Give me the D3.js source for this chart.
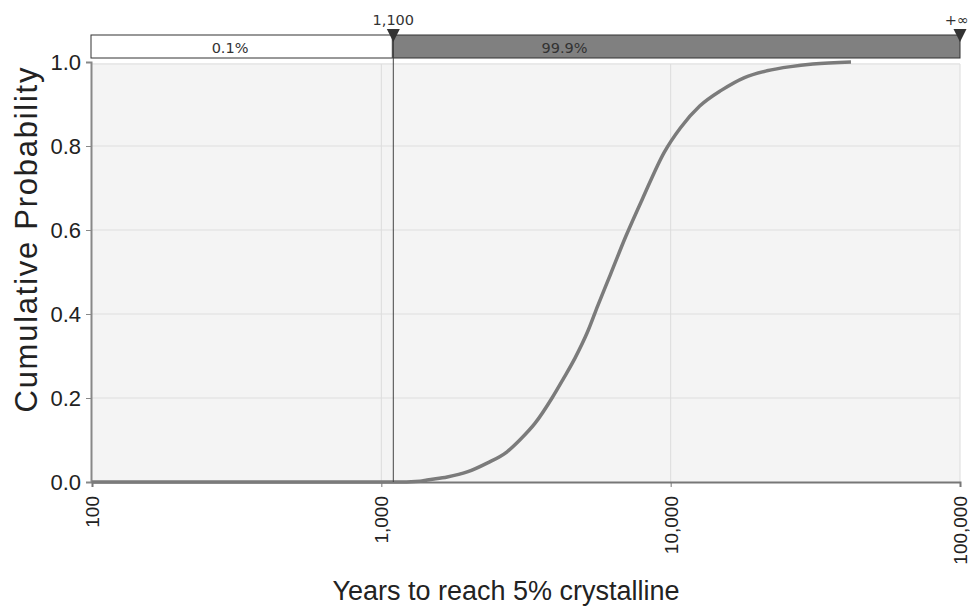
<!DOCTYPE html>
<html>
<head>
<meta charset="utf-8">
<script src="https://cdn.jsdelivr.net/npm/d3@7"></script>
<style>
  body { margin: 0; background: #fff; }
  svg { display: block; }
  .tick text { font-family: "Liberation Sans", Arial, sans-serif; fill: #222; }
  .band-label { font-family: "DejaVu Sans", Tahoma, sans-serif; font-size: 14.5px; fill: #333; }
</style>
</head>
<body>
<div id="chart"></div>
<script>
// values
const years = [100, 1100, 1360, 1440, 1690, 1980, 2320, 2720, 3010, 3400, 3890, 4250, 4670, 5180,
  5600, 6200, 7000, 8000, 9500, 10800, 12600, 15000, 18000, 21500, 26000, 31000, 42000];
const cumProb = [0, 0, 0.002, 0.005, 0.012, 0.024, 0.045, 0.072, 0.1, 0.14, 0.2, 0.245, 0.295, 0.36,
  0.42, 0.495, 0.585, 0.675, 0.785, 0.843, 0.895, 0.933, 0.963, 0.979, 0.989, 0.995, 1.0];

const xTicks = [100, 1000, 10000, 100000];
const yTicks = [0, 0.2, 0.4, 0.6, 0.8, 1.0];

const bandEdges = [100, 1100, 100000];
const bandLabels = ["0.1%", "99.9%"];
const bandLabelAt = [300, 4300];
const markerLabels = ["1,100", "+\u221e"];

const width = 970, height = 609;
const margin = {top: 62, right: 10, bottom: 127, left: 92};

const svg = d3.select("#chart").append("svg")
  .attr("width", width)
  .attr("height", height);

const x = d3.scaleLog()
  .domain([100, 100000])
  .range([margin.left, width - margin.right]);

const y = d3.scaleLinear()
  .domain([0, 1])
  .range([height - margin.bottom, margin.top]);

// plot background
svg.append("rect")
  .attr("x", x(100) - 1)
  .attr("y", y(1) + 1)
  .attr("width", x(100000) - x(100) + 1)
  .attr("height", y(0) - y(1) - 1)
  .style("fill", "#f4f4f4");

// gridlines
svg.append("g").selectAll("line")
  .data(yTicks.slice(1))
  .enter().append("line")
  .attr("x1", x(100)).attr("x2", x(100000))
  .attr("y1", d => y(d) + (d === 1 ? 2 : 0)).attr("y2", d => y(d) + (d === 1 ? 2 : 0))
  .style("stroke", "#dedede");

svg.append("g").selectAll("line")
  .data(xTicks.slice(1))
  .enter().append("line")
  .attr("x1", d => x(d)).attr("x2", d => x(d))
  .attr("y1", y(1) + 2).attr("y2", y(0))
  .style("stroke", "#dcdcdc");

// axes
const yAxis = d3.axisLeft(y).tickValues(yTicks).tickFormat(d3.format(".1f")).tickSize(5).tickPadding(5);
const gy = svg.append("g")
  .attr("transform", "translate(" + (x(100) - 1) + ",0)")
  .call(yAxis);
gy.select(".domain").style("stroke", "#888").style("stroke-width", 2);
gy.selectAll(".tick line").style("stroke", "#888");
gy.selectAll(".tick text").style("font-size", "22px");

const xAxis = d3.axisBottom(x).tickValues(xTicks).tickFormat(d3.format(",")).tickSize(5);
const gx = svg.append("g")
  .attr("transform", "translate(0," + y(0) + ")")
  .call(xAxis);
gx.select(".domain").style("stroke", "#777").style("stroke-width", 2);
gx.selectAll(".tick line").style("stroke", "#777");
gx.selectAll(".tick text")
  .style("font-size", "19px")
  .attr("transform", "rotate(-90)")
  .attr("text-anchor", "end")
  .attr("x", -14)
  .attr("y", 0)
  .attr("dy", "0.35em");

// axis titles
svg.append("text")
  .attr("transform", "translate(37,240) rotate(-90)")
  .attr("text-anchor", "middle")
  .attr("textLength", 345)
  .style("font-family", "Liberation Sans, Arial, sans-serif")
  .style("font-size", "31px")
  .style("fill", "#222")
  .text("Cumulative Probability");

svg.append("text")
  .attr("x", 506)
  .attr("y", 600)
  .attr("text-anchor", "middle")
  .style("font-family", "Liberation Sans, Arial, sans-serif")
  .style("font-size", "27px")
  .style("fill", "#222")
  .text("Years to reach 5% crystalline");

// the cumulative curve
const line = d3.line()
  .x((d, i) => x(years[i]))
  .y(d => y(d))
  .curve(d3.curveMonotoneX);

svg.append("path")
  .datum(cumProb)
  .attr("d", line)
  .style("fill", "none")
  .style("stroke", "#7b7b7b")
  .style("stroke-width", 3.5);

// top band
const bandTop = 35, bandH = 23;
svg.selectAll("rect.band")
  .data(bandLabels)
  .enter().append("rect")
  .attr("x", (d, i) => x(bandEdges[i]) - (i === 0 ? 1 : 0))
  .attr("y", bandTop)
  .attr("width", (d, i) => x(bandEdges[i + 1]) - x(bandEdges[i]))
  .attr("height", bandH)
  .style("fill", (d, i) => i === 0 ? "#fff" : "#808080")
  .style("stroke", "#333")
  .style("stroke-width", 1);

svg.selectAll("text.band-text")
  .data(bandLabels)
  .enter().append("text")
  .attr("class", "band-label")
  .attr("x", (d, i) => x(bandLabelAt[i]))
  .attr("y", 53)
  .attr("text-anchor", "middle")
  .text(d => d);

// delimiter line at 1,100
svg.append("line")
  .attr("x1", x(1100)).attr("x2", x(1100))
  .attr("y1", bandTop).attr("y2", y(0))
  .style("stroke", "#444")
  .style("stroke-width", 1);

// markers
const markerX = [x(1100), x(100000)];
svg.selectAll("path.marker")
  .data(markerX)
  .enter().append("path")
  .attr("d", d => "M" + (d - 6.5) + ",29 L" + (d + 6.5) + ",29 L" + d + ",42 Z")
  .style("fill", "#333");

// the +inf label sits at the right edge, so keep it inside the picture
svg.selectAll("text.marker-text")
  .data(markerLabels)
  .enter().append("text")
  .attr("class", "band-label")
  .attr("x", (d, i) => i === 0 ? markerX[i] : width - 1)
  .attr("y", 25)
  .attr("text-anchor", (d, i) => i === 0 ? "middle" : "end")
  .text(d => d);
</script>
</body>
</html>
